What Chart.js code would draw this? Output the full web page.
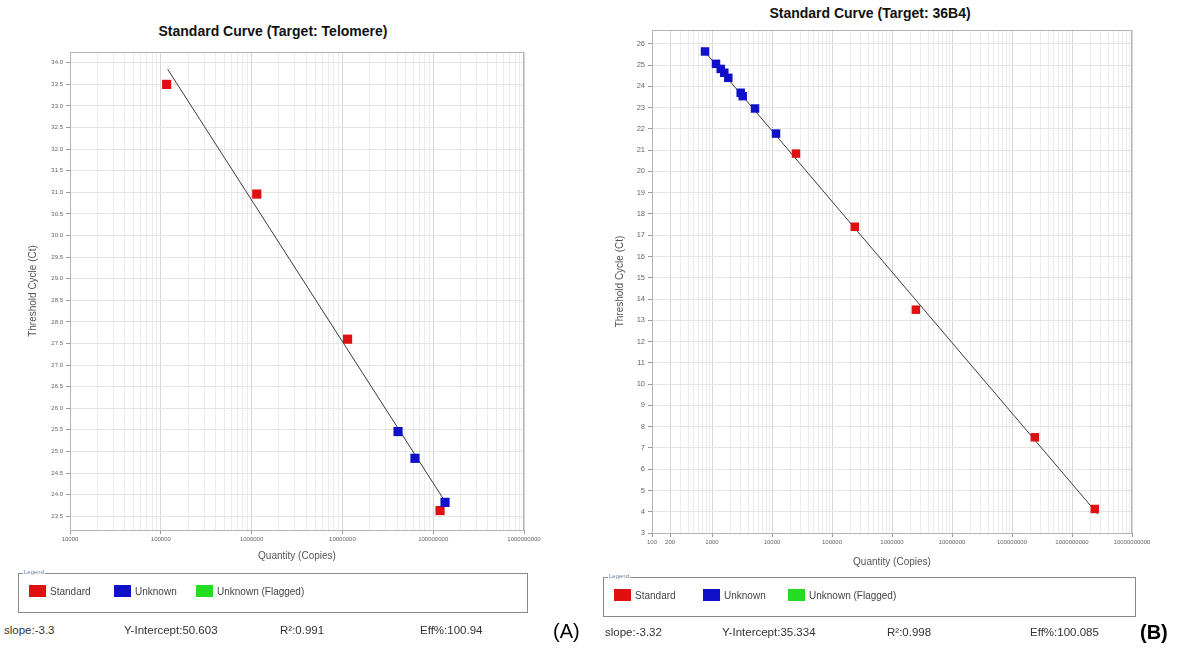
<!DOCTYPE html>
<html>
<head>
<meta charset="utf-8">
<script src="https://cdn.jsdelivr.net/npm/chart.js@4.4.1/dist/chart.umd.min.js"></script>
<style>
  body { margin: 0; background: #fff; font-family: "Liberation Sans", Arial, sans-serif; }
  #page { position: relative; width: 1182px; height: 648px; overflow: hidden; }
  canvas { position: absolute; }
  .title { position: absolute; font-weight: bold; font-size: 14px; color: #111; white-space: nowrap; transform: translateX(-50%); }
  .legend { position: absolute; border: 1px solid #8a8a8a; height: 38px; }
  .legend .cap { position: absolute; left: 4px; top: -5px; font-size: 6px; color: #6a7fa0; background: #fff; padding: 0 1px; }
  .legend .item { position: absolute; top: 11px; font-size: 10px; color: #444; white-space: nowrap; }
  .legend .sw { display: inline-block; width: 17px; height: 12px; vertical-align: -2px; margin-right: 4px; }
  .stat { position: absolute; font-size: 11.5px; color: #333; white-space: nowrap; }
  .panel { position: absolute; font-size: 20px; color: #000; }
</style>
</head>
<body>
<div id="page">
  <div class="title" style="left:273px; top:23px;">Standard Curve (Target: Telomere)</div>
  <div class="title" style="left:870px; top:5px;">Standard Curve (Target: 36B4)</div>

  <canvas id="chartA" width="545" height="575" style="left:0; top:0;"></canvas>
  <canvas id="chartB" width="592" height="580" style="left:590px; top:0;"></canvas>

  <div class="legend" style="left:18px; top:573px; width:508px;">
    <span class="cap">Legend</span>
    <span class="item" style="left:10px;"><span class="sw" style="background:#e01010"></span>Standard</span>
    <span class="item" style="left:95px;"><span class="sw" style="background:#1010c8"></span>Unknown</span>
    <span class="item" style="left:177px;"><span class="sw" style="background:#22dd22"></span>Unknown (Flagged)</span>
  </div>
  <div class="legend" style="left:603px; top:577px; width:531px;">
    <span class="cap">Legend</span>
    <span class="item" style="left:10px;"><span class="sw" style="background:#e01010"></span>Standard</span>
    <span class="item" style="left:99px;"><span class="sw" style="background:#1010c8"></span>Unknown</span>
    <span class="item" style="left:184px;"><span class="sw" style="background:#22dd22"></span>Unknown (Flagged)</span>
  </div>

  <div class="stat" style="left:4px; top:624px;">slope:-3.3</div>
  <div class="stat" style="left:124px; top:624px;">Y-Intercept:50.603</div>
  <div class="stat" style="left:280px; top:624px;">R²:0.991</div>
  <div class="stat" style="left:420px; top:624px;">Eff%:100.94</div>
  <div class="panel" style="left:553px; top:620px;">(A)</div>

  <div class="stat" style="left:605px; top:626px;">slope:-3.32</div>
  <div class="stat" style="left:722px; top:626px;">Y-Intercept:35.334</div>
  <div class="stat" style="left:887px; top:626px;">R²:0.998</div>
  <div class="stat" style="left:1030px; top:626px;">Eff%:100.085</div>
  <div class="panel" style="left:1140px; top:621px; font-weight:bold;">(B)</div>
</div>

<script>
// ---- (A) Telomere ----
const telomereStdQty = [1.16e5, 1.14e6, 1.14e7, 1.19e8];
const telomereStdCt  = [33.5, 30.96, 27.6, 23.63];
const telomereUnkQty = [4.1e7, 6.3e7, 1.35e8];
const telomereUnkCt  = [25.46, 24.84, 23.82];
const telomereFitQty = [1.19e5, 1.35e8];
const telomereFitCt  = [33.85, 23.84];
const telomereQtyLabels = [1e4, 1e5, 1e6, 1e7, 1e8, 1e9];
const telomereCtTicks = [34.0, 33.5, 33.0, 32.5, 32.0, 31.5, 31.0, 30.5, 30.0, 29.5, 29.0,
                         28.5, 28.0, 27.5, 27.0, 26.5, 26.0, 25.5, 25.0, 24.5, 24.0, 23.5];

// ---- (B) 36B4 ----
const b36StdQty = [25100, 2.4e5, 2.5e6, 2.4e8, 2.4e9];
const b36StdCt  = [20.84, 17.4, 13.5, 7.5, 4.13];
const b36UnkQty = [764, 1166, 1396, 1603, 1870, 3009, 3250, 5210, 11660];
const b36UnkCt  = [25.64, 25.06, 24.82, 24.64, 24.40, 23.70, 23.54, 22.96, 21.78];
const b36FitQty = [708, 2.7e9];
const b36FitCt  = [25.73, 3.88];
const b36QtyLabels = [100, 200, 1e3, 1e4, 1e5, 1e6, 1e7, 1e8, 1e9, 1e10];
const b36CtTicks = [3, 4, 5, 6, 7, 8, 9, 10, 11, 12, 13, 14, 15, 16, 17, 18, 19, 20, 21, 22, 23, 24, 25, 26];

const RED = '#e01010';
const BLUE = '#1010c8';

function pts(xs, ys) {
  return xs.map((x, i) => ({ x: x, y: ys[i] }));
}

function isLabel(list, v) {
  return list.some(l => Math.abs(v / l - 1) < 1e-6);
}

// 枠線（プロット領域の四辺）
const frame = {
  id: 'frame',
  afterDraw(chart) {
    const a = chart.chartArea, c = chart.ctx;
    c.save();
    c.strokeStyle = '#b4b4b4';
    c.lineWidth = 1;
    c.strokeRect(a.left + 0.5, a.top + 0.5, a.right - a.left - 1, a.bottom - a.top);
    c.restore();
  }
};

function makeChart(id, cfg) {
  return new Chart(document.getElementById(id), {
    type: 'scatter',
    data: {
      datasets: [
        { label: 'Unknown', data: pts(cfg.unkQ, cfg.unkC), pointStyle: 'rect', pointRadius: cfg.r,
          backgroundColor: BLUE, borderColor: BLUE, borderWidth: 0 },
        { label: 'Standard', data: pts(cfg.stdQ, cfg.stdC), pointStyle: 'rect', pointRadius: cfg.r,
          backgroundColor: RED, borderColor: RED, borderWidth: 0 },
        { label: 'fit', data: pts(cfg.fitQ, cfg.fitC), showLine: true, pointRadius: 0,
          borderColor: '#3a3a3a', borderWidth: 1 }
      ]
    },
    options: {
      responsive: false,
      devicePixelRatio: 1,
      animation: false,
      layout: { padding: cfg.pad },
      plugins: { legend: { display: false }, tooltip: { enabled: false } },
      scales: {
        x: {
          type: 'logarithmic',
          min: cfg.xMin, max: cfg.xMax,
          afterBuildTicks(scale) {
            // 各桁の 1..9 倍に目盛り線
            const t = [];
            for (let e = Math.round(Math.log10(cfg.xMin)); e < Math.round(Math.log10(cfg.xMax)); e++) {
              for (let k = 1; k <= 9; k++) t.push({ value: k * Math.pow(10, e) });
            }
            t.push({ value: cfg.xMax });
            scale.ticks = t;
          },
          afterFit(scale) { scale.height = cfg.xH; },
          ticks: {
            autoSkip: false, maxRotation: 0, minRotation: 0, padding: 2,
            font: { size: 6, family: 'Liberation Sans' }, color: '#666',
            callback: (v) => isLabel(cfg.xLabels, v) ? String(Math.round(v)) : ''
          },
          grid: {
            color: (c) => c.tick && isLabel(cfg.xLabels, c.tick.value) ? '#d6d6d6' : '#ececec',
            tickColor: (c) => c.tick && isLabel(cfg.xLabels, c.tick.value) ? '#999' : 'rgba(0,0,0,0)',
            tickLength: 4
          },
          border: { color: '#a8a8a8', width: 1 },
          title: { display: true, text: 'Quantity (Copies)', color: '#555',
                   font: { size: 10, family: 'Liberation Sans' }, padding: { top: 0, bottom: cfg.xTitlePad } }
        },
        y: {
          min: cfg.yMin, max: cfg.yMax,
          afterBuildTicks(scale) { scale.ticks = cfg.yTicks.map(v => ({ value: v })); },
          afterFit(scale) { scale.width = cfg.yW; },
          ticks: {
            autoSkip: false, padding: 3,
            font: { size: cfg.yFont, family: 'Liberation Sans' }, color: '#666',
            callback: (v) => cfg.yDigits ? Number(v).toFixed(cfg.yDigits) : String(v)
          },
          grid: { color: '#e4e4e4', tickColor: '#999', tickLength: 4 },
          border: { color: '#a8a8a8', width: 1 },
          title: { display: true, text: 'Threshold Cycle (Ct)', color: '#555',
                   font: { size: 10, family: 'Liberation Sans' }, padding: { top: cfg.yTitlePad, bottom: 0 } }
        }
      }
    },
    plugins: [frame]
  });
}

makeChart('chartA', {
  stdQ: telomereStdQty, stdC: telomereStdCt,
  unkQ: telomereUnkQty, unkC: telomereUnkCt,
  fitQ: telomereFitQty, fitC: telomereFitCt,
  xLabels: telomereQtyLabels, xMin: 1e4, xMax: 1e9,
  yTicks: telomereCtTicks, yMin: 23.18, yMax: 34.25, yDigits: 1, yFont: 6,
  r: 6.5,
  pad: { left: 0, right: 21, top: 52, bottom: 0 },
  xH: 45, yW: 70, xTitlePad: 13, yTitlePad: 27
});

makeChart('chartB', {
  stdQ: b36StdQty, stdC: b36StdCt,
  unkQ: b36UnkQty, unkC: b36UnkCt,
  fitQ: b36FitQty, fitC: b36FitCt,
  xLabels: b36QtyLabels, xMin: 100, xMax: 1e10,
  yTicks: b36CtTicks, yMin: 3, yMax: 26.65, yDigits: 0, yFont: 7.5,
  r: 6,
  pad: { left: 0, right: 50, top: 30, bottom: 0 },
  xH: 47, yW: 62, xTitlePad: 12, yTitlePad: 24
});
</script>
</body>
</html>
